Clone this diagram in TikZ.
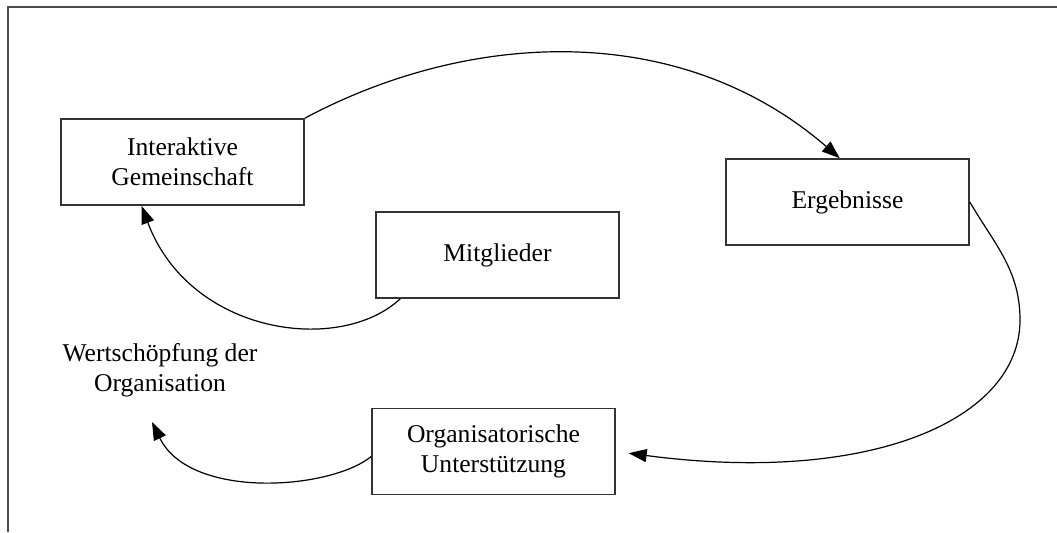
\documentclass[tikz,border=0pt]{standalone}
\usepackage{fontspec}
\setmainfont{Liberation Serif}
\usetikzlibrary{arrows.meta,calc}
\tikzset{
  box/.style={draw=black!80, line width=0.8pt, minimum width=121.5pt, minimum height=43pt,
    inner sep=0pt, align=center, font=\fontsize{12.8}{15}\selectfont},
  plain/.style={inner sep=0pt, align=center, font=\fontsize{12.8}{15}\selectfont},
  flow/.style={line width=0.6pt, -{Triangle[length=9pt,width=6.5pt]}},
  frame/.style={draw=black!70, line width=1pt}
}
\begin{document}
\begin{tikzpicture}[x=0.5pt,y=-0.5pt]
\useasboundingbox (0,0) rectangle (1057,532);
\draw[frame] (8,532) -- (8,6.5) -- (1057,6.5);
\node[box] (ia)  at (182.5,162) {Interaktive\\Gemeinschaft};
\node[box] (mit) at (497.5,255) {Mitglieder};
\node[box] (erg) at (847.5,202) {Ergebnisse};
\node[box] (org) at (493.5,451.5) {Organisatorische\\Unterstützung};
\node[plain] (wert) at (160,370) {Wertschöpfung der\\Organisation};
\coordinate (wtip) at (152,422);
\draw[flow] (ia.north east) .. controls (470,30) and (680,20) .. (erg.100);
\draw[flow, shorten >=6.5pt] (erg.east) .. controls (995,245) and (1020,270) .. (1020,320)
   .. controls (1020,420) and (870,485) .. (org.east);
\draw[flow] ($(mit.south west)+(25,0)$) .. controls (340,355) and (190,335) .. ($(ia.south)+(-41,0)$);
\draw[flow] ($(org.west)+(0,5)$) .. controls (330,490) and (190,500) .. (wtip);
\end{tikzpicture}
\end{document}
